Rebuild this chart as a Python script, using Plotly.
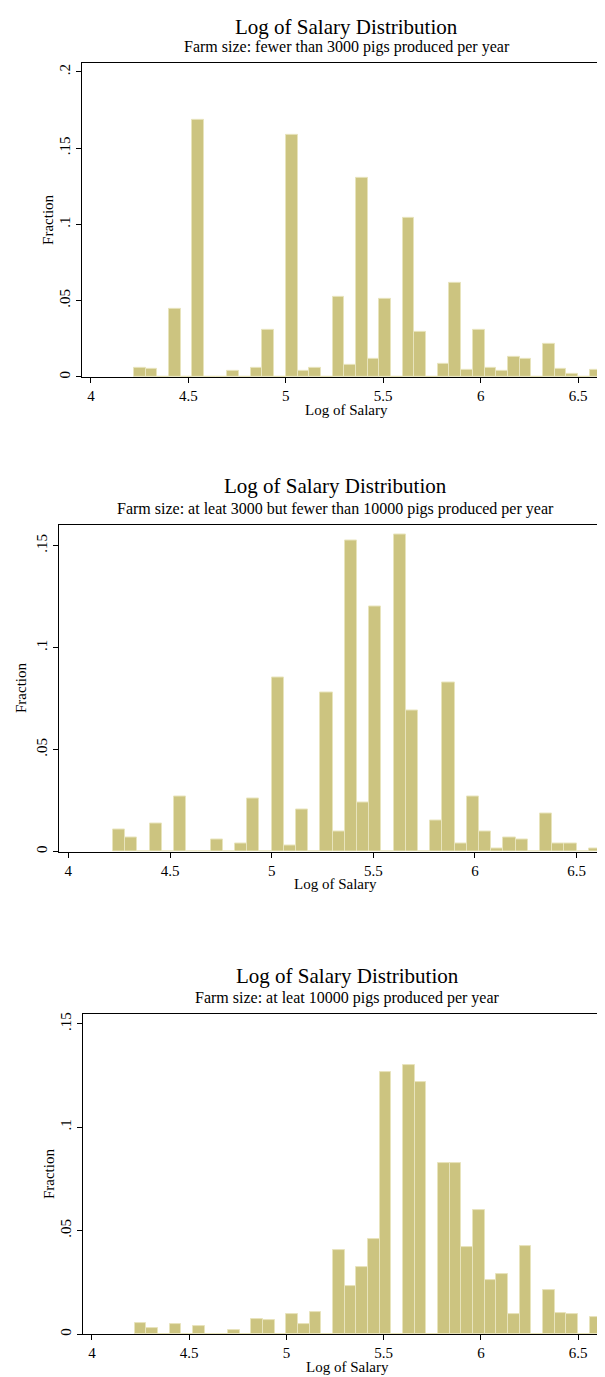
import plotly.graph_objects as go

# ---------------- data ----------------
bin_centers = [4.250, 4.310, 4.370, 4.430, 4.490, 4.550, 4.610, 4.670, 4.730, 4.790,
               4.850, 4.910, 4.970, 5.030, 5.090, 5.150, 5.210, 5.270, 5.330, 5.390,
               5.450, 5.510, 5.570, 5.630, 5.690, 5.750, 5.810, 5.870, 5.930, 5.990,
               6.050, 6.110, 6.170, 6.230, 6.290, 6.350, 6.410, 6.470, 6.530, 6.590]
bin_width = 0.06

frac_small = [0.0061, 0.0052, 0, 0.0448, 0, 0.1688, 0, 0, 0.0037, 0,
              0.0061, 0.0306, 0, 0.1585, 0.0037, 0.0061, 0, 0.0524, 0.0076, 0.1303,
              0.0116, 0.0515, 0, 0.1044, 0.0295, 0, 0.0085, 0.0620, 0.0044, 0.0306,
              0.0061, 0.0037, 0.0131, 0.0116, 0, 0.0218, 0.0052, 0.0022, 0, 0.0044]

frac_medium = [0.0109, 0.0068, 0, 0.0138, 0, 0.0272, 0, 0, 0.0057, 0,
               0.0039, 0.0262, 0, 0.0852, 0.0028, 0.0208, 0, 0.0782, 0.0098, 0.1523,
               0.0241, 0.1200, 0, 0.1555, 0.0689, 0, 0.0150, 0.0831, 0.0039, 0.0272,
               0.0098, 0.0016, 0.0068, 0.0057, 0, 0.0187, 0.0039, 0.0039, 0, 0.0016]

frac_large = [0.0055, 0.0029, 0, 0.0048, 0, 0.0037, 0, 0, 0.0019, 0,
              0.0073, 0.0066, 0, 0.0097, 0.0048, 0.0107, 0, 0.0407, 0.0233, 0.0323,
              0.0461, 0.1266, 0, 0.1301, 0.1217, 0, 0.0829, 0.0826, 0.0420, 0.0598,
              0.0259, 0.0288, 0.0097, 0.0425, 0, 0.0215, 0.0103, 0.0097, 0, 0.0082]

x_ticks = [4, 4.5, 5, 5.5, 6, 6.5]
x_tick_labels = ["4", "4.5", "5", "5.5", "6", "6.5"]
y_ticks_small = [0, 0.05, 0.1, 0.15, 0.2]
y_tick_labels_small = ["0", ".05", ".1", ".15", ".2"]
y_ticks_other = [0, 0.05, 0.1, 0.15]
y_tick_labels_other = ["0", ".05", ".1", ".15"]

main_title = "Log of Salary Distribution"
subtitles = ["Farm size: fewer than 3000 pigs produced per year",
             "Farm size: at leat 3000 but fewer than 10000 pigs produced per year",
             "Farm size: at leat 10000 pigs produced per year"]
x_title = "Log of Salary"
y_title = "Fraction"

# ---------------- layout geometry (pixels) ----------------
W, H = 605, 1377
FONT = "Liberation Serif, Times New Roman, serif"
BAR_FILL = "rgb(204,196,128)"
BAR_EDGE = "rgb(232,228,188)"

panels = [
    dict(vals=frac_small, yt=y_ticks_small, ytl=y_tick_labels_small, ymax=0.2059,
         left=74, right=603, top=53, bottom=368, title_y=17, sub_y=37, ytitle_x=40),
    dict(vals=frac_medium, yt=y_ticks_other, ytl=y_tick_labels_other, ymax=0.1603,
         left=51, right=603, top=516, bottom=844, title_y=477, sub_y=500, ytitle_x=13),
    dict(vals=frac_large, yt=y_ticks_other, ytl=y_tick_labels_other, ymax=0.1547,
         left=75, right=603, top=1007, bottom=1328, title_y=969, sub_y=991, ytitle_x=41),
]
x_range = [3.954, 6.669]

fig = go.Figure()
annotations = []

def px_x(x):
    return x / W

def px_y(y):
    return 1 - y / H

for i, p in enumerate(panels, start=1):
    xa = "x" if i == 1 else f"x{i}"
    ya = "y" if i == 1 else f"y{i}"
    fig.add_trace(go.Bar(
        x=bin_centers, y=p["vals"], width=bin_width,
        marker=dict(color=BAR_FILL, line=dict(color=BAR_EDGE, width=1)),
        xaxis=xa, yaxis=ya, showlegend=False, hoverinfo="x+y"))

    axis_common = dict(showline=True, linecolor="black", linewidth=1, mirror=True,
                       ticks="outside", ticklen=5, tickcolor="black", tickwidth=1,
                       showgrid=False, zeroline=False,
                       tickfont=dict(family=FONT, size=15, color="black"))
    xkey = "xaxis" if i == 1 else f"xaxis{i}"
    ykey = "yaxis" if i == 1 else f"yaxis{i}"
    fig.update_layout(**{
        xkey: dict(axis_common, domain=[px_x(p["left"]), px_x(p["right"])],
                   range=x_range, tickvals=x_ticks, ticktext=x_tick_labels,
                   anchor=ya),
        ykey: dict(axis_common, domain=[px_y(p["bottom"]), px_y(p["top"])],
                   range=[0, p["ymax"]], tickvals=p["yt"], ticktext=p["ytl"],
                   tickangle=-90, anchor=xa),
    })
    cx = (p["left"] + p["right"]) / 2
    annotations += [
        dict(text=main_title, x=px_x(cx), y=px_y(p["title_y"]), xref="paper", yref="paper",
             xanchor="center", yanchor="middle", showarrow=False,
             font=dict(family=FONT, size=21, color="black")),
        dict(text=subtitles[i - 1], x=px_x(cx), y=px_y(p["sub_y"]), xref="paper", yref="paper",
             xanchor="center", yanchor="middle", showarrow=False,
             font=dict(family=FONT, size=16, color="black")),
        dict(text=x_title, x=px_x(cx), y=px_y(p["bottom"] + 33), xref="paper", yref="paper",
             xanchor="center", yanchor="middle", showarrow=False,
             font=dict(family=FONT, size=15, color="black")),
        dict(text=y_title, x=px_x(p["ytitle_x"]), y=px_y((p["top"] + p["bottom"]) / 2),
             xref="paper", yref="paper", textangle=-90,
             xanchor="center", yanchor="middle", showarrow=False,
             font=dict(family=FONT, size=15, color="black")),
    ]

fig.update_layout(
    width=W, height=H, autosize=False,
    margin=dict(l=0, r=0, t=0, b=0),
    paper_bgcolor="white", plot_bgcolor="white",
    bargap=0, annotations=annotations,
)

fig.write_html("out.html")
